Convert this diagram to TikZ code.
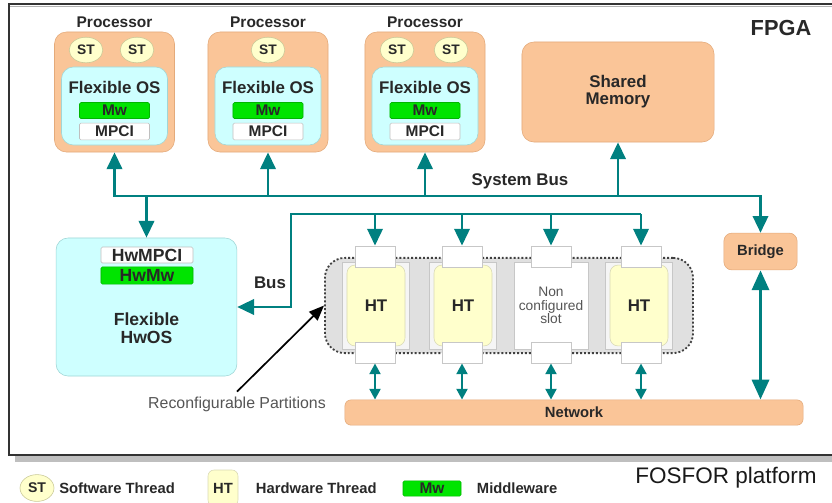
\documentclass[tikz,border=0pt]{standalone}
\usepackage{fontspec}
\setmainfont{Liberation Sans}
\usepackage{xcolor}
\usetikzlibrary{positioning,arrows.meta,shapes.geometric}
\definecolor{peach}{RGB}{250,197,152}
\definecolor{peachline}{RGB}{228,170,122}
\definecolor{cyanbox}{RGB}{206,255,255}
\definecolor{cyanline}{RGB}{160,214,214}
\definecolor{cream}{RGB}{255,255,204}
\definecolor{creamline}{RGB}{200,200,150}
\definecolor{mwgreen}{RGB}{0,228,0}
\definecolor{busteal}{RGB}{0,128,128}
\definecolor{txt}{RGB}{40,40,40}
\definecolor{lighttxt}{RGB}{85,85,85}
\definecolor{partgray}{RGB}{224,224,224}
\newcommand{\fsz}[1]{\fontsize{#1}{#1}\selectfont}

\begin{document}
\begin{tikzpicture}[x=0.025cm,y=-0.025cm,
	every node/.style={text=txt,font=\bfseries\fsz{11}},
	proc/.style={draw=peachline,fill=peach,rounded corners=0.3cm,minimum width=3cm,minimum height=3cm},
	os/.style={draw=cyanline,fill=cyanbox,rounded corners=0.3cm,minimum width=2.65cm,minimum height=1.95cm},
	st/.style={ellipse,draw=creamline,fill=cream,minimum width=0.84cm,minimum height=0.64cm,inner sep=0pt,font=\bfseries\fsz{9.8}},
	mw/.style={fill=mwgreen,draw=mwgreen!80!black,rounded corners=1pt,minimum width=1.75cm,minimum height=0.4cm,inner sep=0pt},
	mpci/.style={fill=white,draw=black!25,rounded corners=1pt,minimum width=1.75cm,minimum height=0.42cm,inner sep=0pt},
	mem/.style={draw=peachline,fill=peach,rounded corners=0.3cm},
	slot/.style={draw=black!22,fill=black!4,minimum width=1.67cm,minimum height=2.18cm},
	ht/.style={draw=creamline!70,fill=cream,rounded corners=0.2cm,minimum width=1.45cm,minimum height=2.02cm,font=\bfseries\fsz{12}},
	port/.style={draw=black!22,fill=white,minimum width=1cm,minimum height=0.53cm},
	bus/.style={draw=busteal,line width=2.1pt,>={Triangle[width=0.38cm,length=0.42cm]}},
	thinbus/.style={bus,>={Triangle[width=0.27cm,length=0.27cm]}}]

	\useasboundingbox (0,0) rectangle (832,502);
	\fill[black!25] (15,10) rectangle (846,462);
	\draw[fill=white,draw=black!80,line width=1.4pt] (9,4) rectangle (840,455);
	\draw[black!30,line width=0.8pt] (10,6.5) -- (840,6.5);
	\node[font=\bfseries\fsz{15.5}] (fpga) at (781,28) {FPGA};

	\foreach \i/\x in {1/114.5,2/268,3/425} {
		\node[proc] (p\i) at (\x,92) {};
		\node[above=-1pt of p\i.north] (pl\i) {Processor};
		\node[os] (os\i) at (\x,106) {};
		\node[font=\bfseries\fsz{12}] (fos\i) at (\x,87) {Flexible OS};
		\node[mw] (mw\i) at (\x,110.5) {Mw};
		\node[mpci] (mpci\i) at (\x,131.5) {MPCI};
	}
	\node[st] (st1a) at (86,50) {ST};
	\node[st] (st1b) at (137,50) {ST};
	\node[st] (st2) at (268,50) {ST};
	\node[st] (st3a) at (397,50) {ST};
	\node[st] (st3b) at (451,50) {ST};

	\node[mem,minimum width=4.8cm,minimum height=2.5cm,align=center,font=\bfseries\fsz{12}] (mem) at (618,92) {Shared\\Memory};

	\node[os,minimum width=4.52cm,minimum height=3.45cm] (hwos) at (146.5,307) {};
	\node[mpci,minimum width=2.3cm,minimum height=0.4cm,font=\bfseries\fsz{12.5}] (hwmpci) at (147,255) {HwMPCI};
	\node[mw,minimum width=2.3cm,minimum height=0.43cm,font=\bfseries\fsz{12.5}] (hwmw) at (147,275.5) {HwMw};
	\node[align=center,font=\bfseries\fsz{12.5}] (hwlab) at (146.5,328) {Flexible\\HwOS};

	\node[draw=black!75,fill=partgray,line width=1.3pt,dash pattern=on 1.4pt off 1.4pt,rounded corners=0.5cm,minimum width=9.2cm,minimum height=2.38cm] (part) at (509,305.5) {};
	\foreach \i/\x in {1/376,2/463,4/639} {
		\node[slot] (sl\i) at (\x,305.5) {};
		\node[ht] (ht\i) at (\x,305.5) {HT};
	}
	\node[slot,fill=white,align=center,font=\fsz{9.8},text=lighttxt] (sl3) at (551,305.5) {Non\\configured\\slot};
	\foreach \i/\x in {1/375,2/462,3/551,4/641} {
		\node[port] (t\i) at (\x,256.5) {};
		\node[port] (b\i) at (\x,352.5) {};
	}

	\node[mem,rounded corners=0.15cm,minimum width=11.45cm,minimum height=0.63cm,font=\bfseries\fsz{10.5}] (net) at (574,412.5) {Network};
	\node[mem,rounded corners=0.2cm,minimum width=1.83cm,minimum height=0.92cm,font=\bfseries\fsz{10.5}] (bridge) at (760.5,251.5) {Bridge};

	\coordinate (sb) at (0,196);
	\coordinate (hb) at (291,214);
	\draw[bus,<->] (p1.south) |- (bridge.north |- sb) -- (bridge.north);
	\foreach \n in {p2,p3,mem}
		\draw[bus,->] (\n.south |- sb) -- (\n.south);
	\draw[bus,->] (hwos.north |- sb) -- (hwos.north);
	\node[font=\bfseries\fsz{12}] (sblab) at (520,181) {System Bus};

	\draw[bus,->] (t4.north |- hb) -- (hb) |- (hwos.east);
	\foreach \i in {1,...,4}
		\draw[bus,->] (t\i.north |- hb) -- (t\i.north);
	\node[font=\bfseries\fsz{12}] (buslab) at (270,283) {Bus};

	\foreach \i in {1,...,4}
		\draw[thinbus,<->] (b\i.south) -- (b\i.south |- net.north);
	\draw[bus,line width=2.8pt,>={Triangle[width=0.42cm,length=0.5cm]},<->] (bridge.south) -- (bridge.south |- net.north);

	\node[font=\fsz{11.3},text=lighttxt] (rplab) at (237,404) {Reconfigurable Partitions};
	\draw[line width=1.2pt,-{Triangle[width=0.3cm,length=0.38cm]}] (rplab.north) -- (part.west);

	\node[st,minimum width=0.85cm,minimum height=0.67cm,font=\bfseries\fsz{10}] (lst) at (37,488) {ST};
	\node[right=0pt of lst,font=\bfseries\fsz{10.5}] (lstt) {Software Thread};
	\node[ht,minimum width=0.75cm,minimum height=0.9cm,rounded corners=0.15cm,font=\bfseries\fsz{10.5}] (lht) at (223,488) {HT};
	\node[anchor=west,font=\bfseries\fsz{10.5}] (lhtt) at (251,488) {Hardware Thread};
	\node[mw,minimum width=1.45cm,minimum height=0.38cm,font=\bfseries\fsz{11}] (lmw) at (432,488.5) {Mw};
	\node[anchor=west,font=\bfseries\fsz{10.5}] (lmwt) at (472,488) {Middleware};
	\node[font=\fsz{16},text=black!90] (fosfor) at (726,478) {FOSFOR platform};
\end{tikzpicture}
\end{document}
